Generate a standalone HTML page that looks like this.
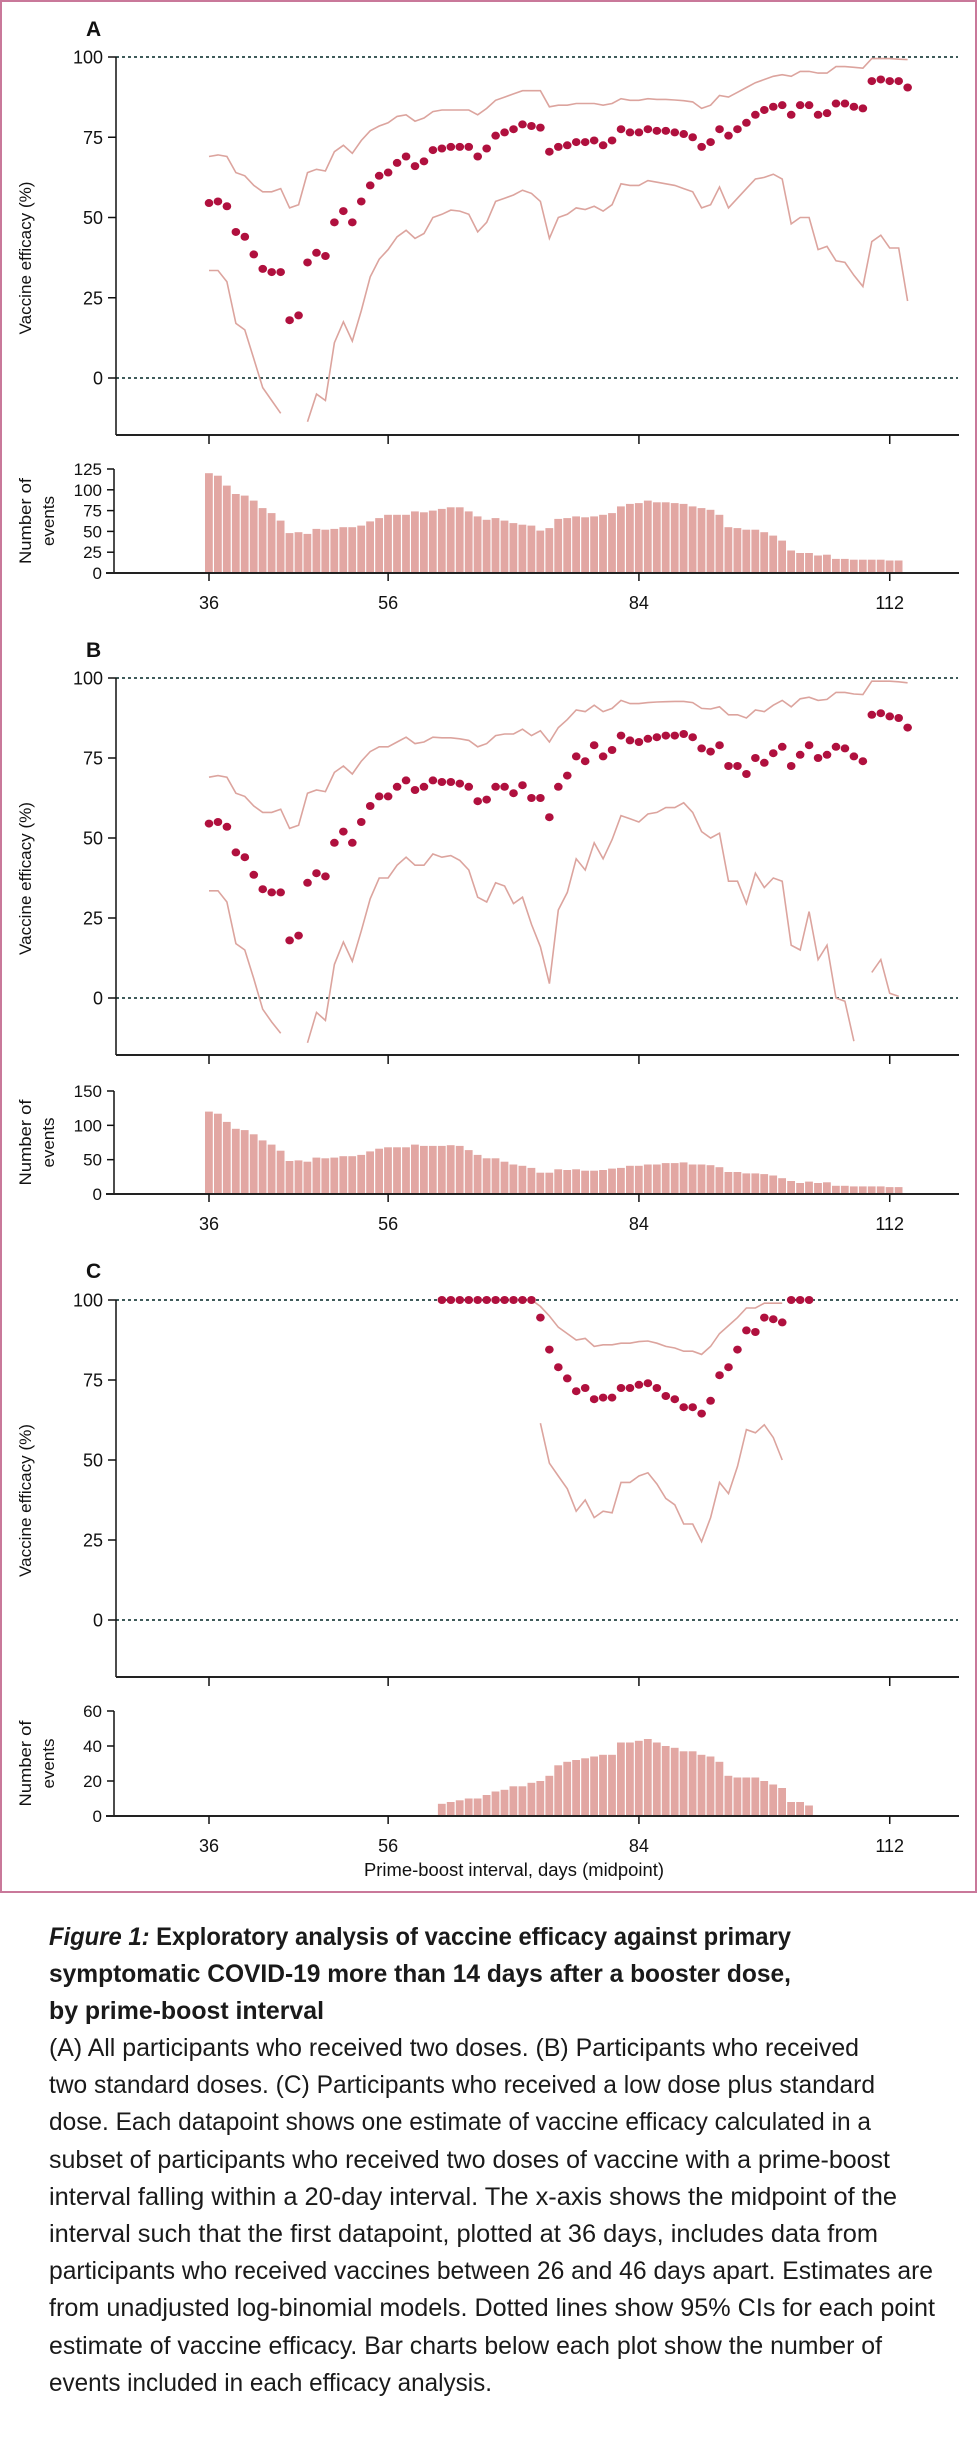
<!DOCTYPE html>
<html><head><meta charset="utf-8"><style>
html,body{margin:0;padding:0;background:#fff;}
svg{display:block;font-family:"Liberation Sans",sans-serif;}
</style></head><body>
<svg id="fig" width="977" height="2450" viewBox="0 0 977 2450" xmlns="http://www.w3.org/2000/svg">
<rect x="1" y="1" width="975" height="1891" fill="none" stroke="#c9789a" stroke-width="2"/>
<g id="charts"></g>
<g fill="#1a1a1a" font-size="25">
<text x="49" y="1945" textLength="742" lengthAdjust="spacingAndGlyphs" font-weight="bold"><tspan font-style="italic">Figure 1:</tspan> Exploratory analysis of vaccine efficacy against primary</text>
<text x="49" y="1982" textLength="742" lengthAdjust="spacingAndGlyphs" font-weight="bold">symptomatic COVID-19 more than 14 days after a booster dose,</text>
<text x="49" y="2019" textLength="275" lengthAdjust="spacingAndGlyphs" font-weight="bold">by prime-boost interval</text>
<text x="49" y="2056" textLength="810" lengthAdjust="spacingAndGlyphs">(A) All participants who received two doses. (B) Participants who received</text>
<text x="49" y="2093" textLength="826" lengthAdjust="spacingAndGlyphs">two standard doses. (C) Participants who received a low dose plus standard</text>
<text x="49" y="2130" textLength="822" lengthAdjust="spacingAndGlyphs">dose. Each datapoint shows one estimate of vaccine efficacy calculated in a</text>
<text x="49" y="2168" textLength="841" lengthAdjust="spacingAndGlyphs">subset of participants who received two doses of vaccine with a prime-boost</text>
<text x="49" y="2205" textLength="848" lengthAdjust="spacingAndGlyphs">interval falling within a 20-day interval. The x-axis shows the midpoint of the</text>
<text x="49" y="2242" textLength="829" lengthAdjust="spacingAndGlyphs">interval such that the first datapoint, plotted at 36 days, includes data from</text>
<text x="49" y="2279" textLength="884" lengthAdjust="spacingAndGlyphs">participants who received vaccines between 26 and 46 days apart. Estimates are</text>
<text x="49" y="2316" textLength="886" lengthAdjust="spacingAndGlyphs">from unadjusted log-binomial models. Dotted lines show 95% CIs for each point</text>
<text x="49" y="2354" textLength="833" lengthAdjust="spacingAndGlyphs">estimate of vaccine efficacy. Bar charts below each plot show the number of</text>
<text x="49" y="2391" textLength="443" lengthAdjust="spacingAndGlyphs">events included in each efficacy analysis.</text>
</g>
</svg>
<script>
// ---- data (days 36..114 for A/B; 62..103 for C) ----
const daysAB_start = 36;
const effTicks = [0, 25, 50, 75, 100];
const xTickDays = [36, 56, 84, 112];

const estA = [54.5,55,53.5,45.5,44,38.5,34,33,33,18,19.5,36,39,38,48.5,52,48.5,55,60,63,64,67,69,66,67.5,71,71.5,72,72,72,69,71.5,75.5,76.5,77.5,79,78.5,78,70.5,72,72.5,73.5,73.5,74,72.5,74,77.5,76.5,76.5,77.5,77,77,76.5,76,75,72,73.5,77.5,75.5,77.5,79.5,82,83.5,84.5,85,82,85,85,82,82.5,85.5,85.5,84.5,84,92.5,93,92.5,92.5,90.5];
const upA = [69,69.5,69,64,63,60,58,58,59,53,54,64,65,64.5,70.5,72.5,70,74,77,78.5,79.5,81.5,82,80,81,83,83.5,83.5,83.5,83.5,82,84,86.5,87.5,88.5,89.5,89.5,89.5,84.5,85,85,85.5,85.5,85.5,85,85.5,87,86.5,86.5,87,86.8,86.8,86.6,86.4,86,84,85,88,87.5,89,90.5,92,93,94,94.5,94,95.5,95.5,95,95,97,97,96.8,96.5,99.5,99.5,99.5,99.3,99.2];
const loA = [33.5,33.5,30,17,15,6,-3,-7,-11,null,null,-13.6,-5,-7,11,17.5,11.5,21,31.5,37,40,44,46,43.5,45,50,51,52.3,52,51,45.5,48.5,55,56,57,58.5,57.5,55,43.5,50,51,53,52.5,53.5,52,54,60.5,60,60,61.5,61,60.5,60,59,58,53,54,59.5,53,56,59,62,62.5,63.5,62,48,50,50,40,41,36.5,36,32,28.5,42.5,44.5,40.5,40.5,24];
const barsA = [120,117,105,95,93,87,78,72,63,48,49,47,53,52,53,55,55,57,62,66,70,70,70,74,73,75,77,79,79,74,68,64,66,63,60,58,57,51,54,65,66,68,67,68,70,72,80,83,84,87,85,85,84,83,80,78,76,70,55,54,52,52,49,45,39,27,24,24,21,22,17,17,16,16,16,16,15,15];
const barTicksA = [0,25,50,75,100,125];

const estB = [54.5,55,53.5,45.5,44,38.5,34,33,33,18,19.5,36,39,38,48.5,52,48.5,55,60,63,63,66,68,65,66,68,67.5,67.5,67,66,61.5,62,66,66,64,66.5,62.5,62.5,56.5,66,69.5,75.5,74,79,75.5,77.5,82,80.5,80,81,81.5,82,82,82.5,81.5,78,77,79,72.5,72.5,70,75,73.5,76.5,78.5,72.5,76,79,75,76,78.5,78,75.5,74,88.5,89,88,87.5,84.5];
const upB = [69,69.5,69,64,63,60,58,58,59,53,54,64,65,64.5,70.5,72.5,70,74,77,78.5,78.5,80,81.5,79.5,80,81.5,81.3,81.3,81,80.5,78.5,79.5,82,82.5,82.5,84,82,83.5,80,84.5,87,90,89.5,91.5,89.5,90.5,93,92,92,92.3,92.5,92.6,92.7,92.7,92.3,90.5,90.3,91,88.5,88.5,87.5,90,89.5,91.5,93,91,93.5,94,93,93.3,95.5,95.5,95,94.8,99,99,99,98.8,98.5];
const loB = [33.5,33.5,30,17,15,6,-3.5,-7.5,-11,null,null,-14,-4.5,-7,10.5,17.5,11.5,21,31,37.5,37.5,41.5,44,41.5,41.5,45,44,44.5,43,40,31.5,30,36,35,29.5,31.5,23,16,4.5,27.5,33,43.5,40,48.5,43.5,49.5,57,56,55,57.5,58,59.5,59.5,61,58,52,50,51.5,36.5,36.5,29.5,39,34.5,37.5,36.5,16.5,15,27,12,16.5,0,-1,-13.5,null,8,12,1.5,0.5,null];
const barsB = [120,117,105,95,93,87,78,72,63,48,49,47,53,52,53,55,55,57,62,66,68,68,68,72,70,70,70,71,70,64,57,52,52,47,43,41,38,31,31,36,35,36,34,34,35,37,38,41,41,43,43,45,45,46,43,43,42,39,32,32,30,30,29,27,23,19,16,18,16,17,12,12,11,11,11,11,10,10];
const barTicksB = [0,50,100,150];

const daysC_start = 62;
const estC = [100,100,100,100,100,100,100,100,100,100,100,94.5,84.5,79,75.5,71.5,72.5,69,69.5,69.5,72.5,72.5,73.5,74,72.5,70,69,66.5,66.5,64.5,68.5,76.5,79,84.5,90.5,90,94.5,94,93,100,100,100];
const upC = [null,null,null,null,null,null,null,null,null,null,100,98,95,91.5,89.5,87.5,88,85.5,86,86,86.5,86.5,87,87.2,86.5,85.5,85,84,84,83,85.5,89.5,92,94.5,97.5,97.5,99,99,99,null,null,null];
const loC = [null,null,null,null,null,null,null,null,null,null,null,61.5,49,45,41,34,37.5,32,34,33.5,43,43,45,46,42.5,38,36,30,30,24.5,32,43,39.5,48,59.5,58.5,61,57,50,null,null,null];
const barsC = [7,8,9,10,10,12,14,15,17,17,19,20,23,29,31,32,33,34,35,35,42,42,43,44,42,40,39,37,37,35,34,31,23,22,22,22,20,18,16,8,8,6];
const barTicksC = [0,20,40,60];

// ---- drawing ----
const NS = "http://www.w3.org/2000/svg";
const root = document.getElementById('charts');
const X0 = 209, PX_PER_DAY = 8.957;
function xScale(day){ return X0 + (day - 36) * PX_PER_DAY; }
function mk(tag, attrs, parent){
  const e = document.createElementNS(NS, tag);
  for (const k in attrs) e.setAttribute(k, attrs[k]);
  (parent || root).appendChild(e);
  return e;
}
function txt(s, attrs, parent){ const t = mk('text', attrs, parent); t.textContent = s; return t; }

function drawPanel(p){
  const g = mk('g', {});
  
  
  const yTop = v => p.y0 - (v / 100) * (p.y0 - p.y100);
  // panel label
  const lab = txt(p.key.toUpperCase(), {x: 86, y: p.labelY, 'font-size': 21, 'font-weight': 'bold', fill: '#111'}, g);
  
  
  // reference dashed lines
  [0, 100].forEach(v => {
    const l = mk('line', {x1: 116, x2: 958, y1: yTop(v), y2: yTop(v), stroke: '#3f5b5a', 'stroke-width': 2, 'stroke-dasharray': '3,3'}, g);
    
    
  });
  // axes
  const ya = mk('line', {x1: 116, x2: 116, y1: p.y100, y2: p.axisY, stroke: '#111', 'stroke-width': 1.5}, g);
  
  
  const xa = mk('line', {x1: 116, x2: 959, y1: p.axisY, y2: p.axisY, stroke: '#222', 'stroke-width': 2}, g);
  
  
  effTicks.forEach(v => {
    mk('line', {x1: 108, x2: 116, y1: yTop(v), y2: yTop(v), stroke: '#111', 'stroke-width': 1.5}, g);
    const t = txt(String(v), {x: 103, y: yTop(v) + 6.5, 'font-size': 18, 'text-anchor': 'end', fill: '#111'}, g);
    
    
  });
  xTickDays.forEach(d => {
    mk('line', {x1: xScale(d), x2: xScale(d), y1: p.axisY, y2: p.axisY + 9, stroke: '#111', 'stroke-width': 1.5}, g);
  });
  const yt = txt('Vaccine efficacy (%)', {x: 0, y: 0, 'font-size': 17, 'text-anchor': 'middle', fill: '#111', textLength: 153, lengthAdjust: 'spacingAndGlyphs', transform: 'translate(31,' + ((p.y100 + p.axisY) / 2 + 12) + ') rotate(-90)'}, g);
  
  

  // CI lines
  [[p.up, 'ci-upper'], [p.lo, 'ci-lower']].forEach(([arr, nm]) => {
    let segs = [], cur = [];
    arr.forEach((v, i) => {
      if (v === null) { if (cur.length) segs.push(cur); cur = []; }
      else cur.push([xScale(p.start + i), yTop(v)]);
    });
    if (cur.length) segs.push(cur);
    segs.forEach(s => {
      const pl = mk('polyline', {points: s.map(q => q[0].toFixed(1) + ',' + q[1].toFixed(1)).join(' '), fill: 'none', stroke: '#dca49e', 'stroke-width': 1.6}, g);
      
      
    });
  });
  // points
  p.est.forEach((v, i) => {
    if (v === null) return;
    const c = mk('ellipse', {cx: xScale(p.start + i), cy: yTop(v), rx: 4.3, ry: 4, fill: '#b0103e'}, g);
    
    
  });

  // bar chart
  const bMax = p.barTicks[p.barTicks.length - 1];
  const yBar = v => p.b0 - (v / bMax) * (p.b0 - p.bTop);
  const ba = mk('line', {x1: 114, x2: 114, y1: p.bTop, y2: p.b0, stroke: '#111', 'stroke-width': 1.5}, g);
  
  
  p.barTicks.forEach(v => {
    mk('line', {x1: 107, x2: 114, y1: yBar(v), y2: yBar(v), stroke: '#111', 'stroke-width': 1.5}, g);
    const t = txt(String(v), {x: 102, y: yBar(v) + 6, 'font-size': 17, 'text-anchor': 'end', fill: '#111'}, g);
    
    
  });
  p.bars.forEach((v, i) => {
    const x = xScale(p.start + i);
    const r = mk('rect', {x: (x - 4.0).toFixed(1), y: yBar(v).toFixed(1), width: 7.8, height: (p.b0 - yBar(v)).toFixed(1), fill: '#e2a7a3'}, g);
    
    
  });
  const bx = mk('line', {x1: 106, x2: 959, y1: p.b0, y2: p.b0, stroke: '#222', 'stroke-width': 2}, g);
  
  
  xTickDays.forEach(d => {
    mk('line', {x1: xScale(d), x2: xScale(d), y1: p.b0, y2: p.b0 + 8, stroke: '#111', 'stroke-width': 1.5}, g);
    const t = txt(String(d), {x: xScale(d), y: p.b0 + 36, 'font-size': 18, 'text-anchor': 'middle', fill: '#111'}, g);
    
    
  });
  const bc = (p.bTop + p.b0) / 2;
  const n1 = txt('Number of', {x: 0, y: 0, 'font-size': 17, 'text-anchor': 'middle', fill: '#111', textLength: 86, lengthAdjust: 'spacingAndGlyphs', transform: 'translate(31,' + bc + ') rotate(-90)'}, g);
  
  
  const n2 = txt('events', {x: 0, y: 0, 'font-size': 17, 'text-anchor': 'middle', fill: '#111', transform: 'translate(54,' + bc + ') rotate(-90)'}, g);
  
  
}

drawPanel({key: 'a', start: daysAB_start, est: estA, up: upA, lo: loA, bars: barsA, barTicks: barTicksA,
  labelY: 36, y100: 57, y0: 378, axisY: 435, bTop: 469, b0: 573});
drawPanel({key: 'b', start: daysAB_start, est: estB, up: upB, lo: loB, bars: barsB, barTicks: barTicksB,
  labelY: 657, y100: 678, y0: 998, axisY: 1055, bTop: 1091, b0: 1194});
drawPanel({key: 'c', start: daysC_start, est: estC, up: upC, lo: loC, bars: barsC, barTicks: barTicksC,
  labelY: 1278, y100: 1300, y0: 1620, axisY: 1677, bTop: 1711, b0: 1816});

const xt = txt('Prime-boost interval, days (midpoint)', {x: 514, y: 1876, 'font-size': 18, 'text-anchor': 'middle', fill: '#111', textLength: 300, lengthAdjust: 'spacingAndGlyphs'});


</script>
</body></html>
